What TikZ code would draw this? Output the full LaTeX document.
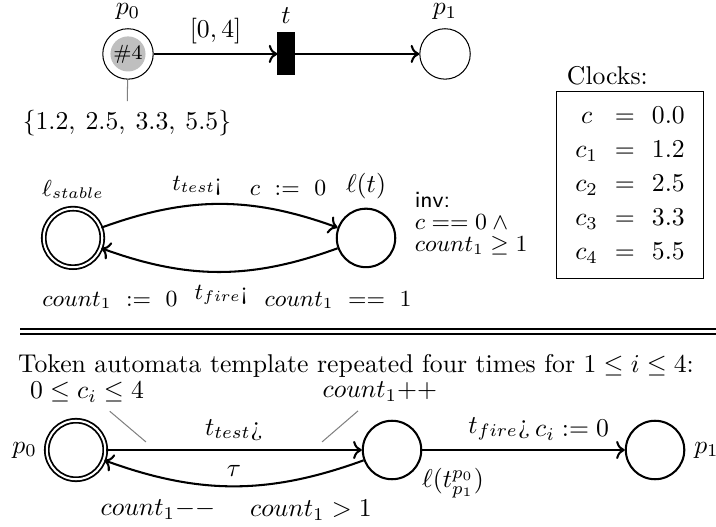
\documentclass[tikz,border=0pt]{standalone}
\usepackage{amsmath,amssymb}
\usepackage{tikz}
\usetikzlibrary{arrows.meta,positioning}

\renewcommand{\arraystretch}{1.1}
\setlength{\arraycolsep}{3.3pt}

\begin{document}
\begin{tikzpicture}[
  pnplace/.style={circle, draw, thin, minimum size=6.9mm, inner sep=0pt},
  pntrans/.style={draw, fill=black, minimum width=2.2mm, minimum height=5.75mm,
                  inner sep=0pt},
  token/.style={circle, fill=gray!50, minimum size=4.8mm, inner sep=0pt,
                font=\footnotesize},
  loc/.style={circle, draw, thick, minimum size=8mm, inner sep=0pt},
  accloc/.style={double, line width=0.7pt, double distance=0.8pt},
  arc/.style={draw, thick, -{To}},
  annot/.style={draw, gray, thin},
  sm/.style={font=\small},
  sepline/.style={double, line width=1pt, double distance=1pt},
  every label/.append style={inner sep=1pt}, label distance=2.3pt
]
\useasboundingbox (0,0) rectangle (9.795,7.209);

% Petri net
\node[pnplace, label=above:$p_0$] (p0) at (1.751,6.471) {};
\node[token] (tok) at (p0.center) {\#4};
\node[pntrans, label=above:$t$] (t) at (3.912,6.471) {};
\node[pnplace, label=above:$p_1$] (p1) at (6.088,6.471) {};
\draw[arc] (p0) -- node[above] (intv) {$[0,4]$} (t);
\draw[arc] (t) -- (p1);
\node (clkset) at (1.737,5.527) {$\{1.2,\: 2.5,\: 3.3,\: 5.5\}$};
\draw[annot] (p0) -- (clkset);

% clock valuation
\node[draw, thin, minimum width=20mm, minimum height=25.45mm] (clkbox) at (8.619,4.679)
     {$\begin{array}{ccc}
        c   & = & 0.0\\
        c_1 & = & 1.2\\
        c_2 & = & 2.5\\
        c_3 & = & 3.3\\
        c_4 & = & 5.5
      \end{array}$};
\node[above right=-0.4mm and 0.2mm of clkbox.north west] (clklbl) {Clocks:};

% transition automaton
\node[loc, accloc, label={[sm]above:$\ell_{stable}$}] (stable) at (0.999,3.954) {};
\node[loc, label=above:$\ell(t)$] (lt) at (5.007,3.954) {};
\draw[arc] (stable) to[bend left=20]
      node[sm, pos=0.4, above] (ttest) {$t_{test}$¡}
      node[sm, pos=0.8, above=3pt] (creset) {$c~:=~0$} (lt);
\draw[arc] (lt) to[bend left=20] (stable);
\node[sm] (cntreset) at (1.505,3.105) {$count_1~:=~0$};
\node[sm] (tfire) at (3.023,3.174) {$t_{fire}$¡};
\node[sm] (cnteq) at (4.624,3.105) {$count_1~==~1$};
\node[sm, align=left, anchor=west] (inv) at (5.55,4.145)
     {\textsf{inv:}\\[-2.5pt] $c == 0 \land{}$\\[-2.5pt] $count_1 \geq 1$};

\draw[sepline] (0.274,2.674) -- (9.795,2.674);

% token automaton
\node[inner sep=1pt] (heading) at (4.870,2.202)
     {Token automata template repeated four times for $1 \leq i \leq 4$:};
\node[loc, accloc, label=left:$p_0$] (q0) at (1.040,1.053) {};
\node[loc] (qt) at (5.363,1.053) {};
\node[loc, label=right:$p_1$] (q1) at (8.961,1.053) {};
\node (qtname) at (6.197,0.602) {$\ell(t^{p_0}_{p_1})$};
\draw[arc] (q0) -- node[above] (ttestb) {$t_{test}$¿} (qt);
\draw[arc] (qt) to[bend left=20] node[above] (tau) {$\tau$} (q0);
\draw[arc] (qt) -- node[pos=0.38, above] (tfireb) {$t_{fire}$¿}
      node[pos=0.74, above] (creseti) {$c_i := 0$} (q1);

\node (guard) at (1.190,1.847) {$0 \leq c_i \leq 4$};
\node (cntinc) at (5.198,1.847) {$count_1${+}{+}};
\coordinate (guardend) at (1.997,1.163);
\coordinate (incend) at (4.405,1.163);
\draw[annot] (guard) -- (guardend);
\draw[annot] (cntinc) -- (incend);
\node (cntdec) at (2.161,0.233) {$count_1{-}{-}$};
\node (cntgt) at (4.254,0.233) {$count_1 > 1$};
\end{tikzpicture}
\end{document}
